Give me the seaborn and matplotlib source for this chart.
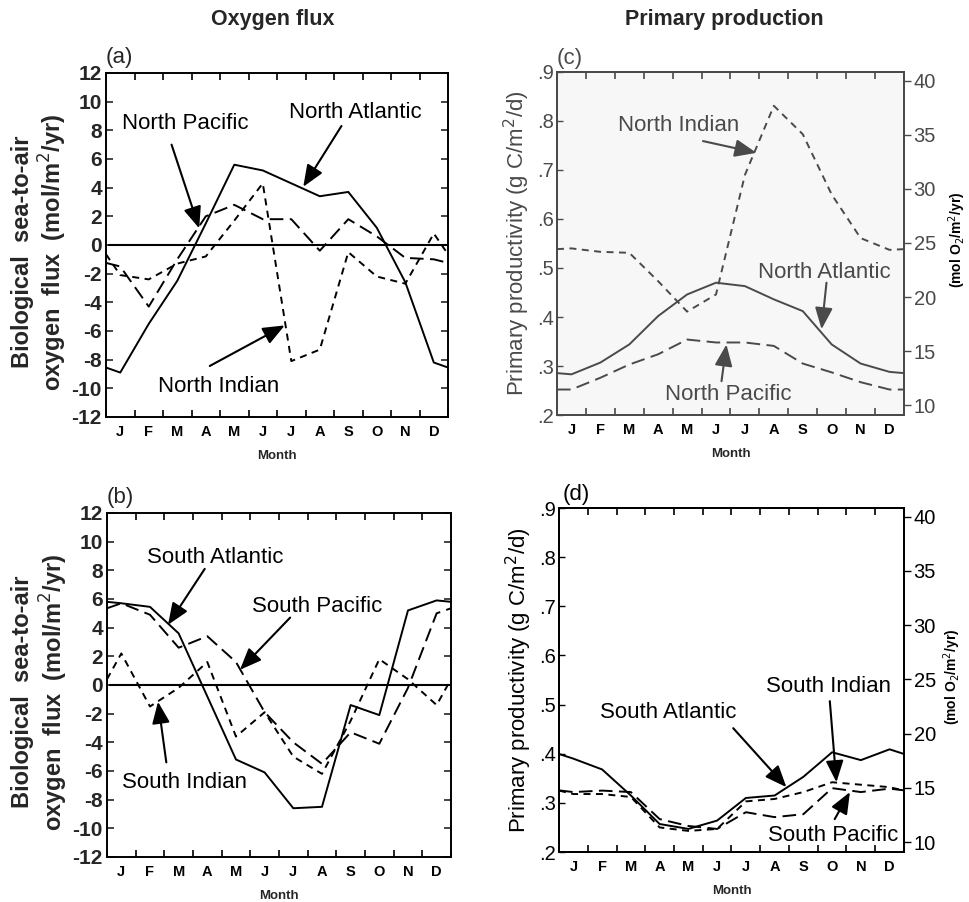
import numpy as np
import pandas as pd
import matplotlib
matplotlib.use("Agg")
import matplotlib.pyplot as plt
import seaborn as sns

months = ["J", "F", "M", "A", "M", "J", "J", "A", "S", "O", "N", "D"]

# (a) biological sea-to-air oxygen flux, northern basins (mol/m2/yr)
n_atlantic_flux = [-8.9, -5.5, -2.5, 1.5, 5.6, 5.2, 4.3, 3.4, 3.7, 1.2, -2.6, -8.2]
n_pacific_flux = [-1.5, -4.3, -1.0, 2.0, 2.8, 1.8, 1.8, -0.4, 1.8, 0.6, -0.9, -1.0]
n_indian_flux = [-2.1, -2.4, -1.3, -0.8, 1.7, 4.3, -8.1, -7.3, -0.5, -2.2, -2.7, 0.8]

# (b) southern basins (mol/m2/yr)
s_atlantic_flux = [5.7, 5.45, 3.6, -0.8, -5.2, -6.1, -8.6, -8.5, -1.4, -2.1, 5.2, 5.9]
s_pacific_flux = [5.7, 4.9, 2.6, 3.4, 1.6, -1.9, -4.0, -5.5, -3.3, -4.1, -0.2, 5.0]
s_indian_flux = [2.2, -1.5, -0.2, 1.6, -3.6, -1.9, -5.0, -6.2, -2.5, 1.8, 0.4, -1.4]

# (c) primary productivity, northern basins (g C/m2/d)
n_atlantic_pp = [0.283, 0.307, 0.344, 0.402, 0.446, 0.470, 0.463, 0.436, 0.412, 0.344, 0.305, 0.288]
n_pacific_pp = [0.252, 0.276, 0.303, 0.324, 0.354, 0.348, 0.348, 0.341, 0.305, 0.287, 0.267, 0.252]
n_indian_pp = [0.540, 0.533, 0.531, 0.473, 0.411, 0.446, 0.690, 0.831, 0.773, 0.650, 0.561, 0.537]

# (d) southern basins (g C/m2/d)
s_atlantic_pp = [0.390, 0.368, 0.315, 0.257, 0.247, 0.264, 0.310, 0.315, 0.353, 0.403, 0.387, 0.409]
s_indian_pp = [0.318, 0.318, 0.312, 0.250, 0.243, 0.247, 0.303, 0.308, 0.322, 0.342, 0.337, 0.332]
s_pacific_pp = [0.322, 0.325, 0.322, 0.267, 0.253, 0.247, 0.281, 0.271, 0.277, 0.330, 0.322, 0.329]

flux_ticks = list(range(-12, 13, 2))
pp_ticks = [0.2, 0.3, 0.4, 0.5, 0.6, 0.7, 0.8, 0.9]
o2_ticks = [10, 15, 20, 25, 30, 35, 40]

sns.set_theme(style="ticks")
plt.rcParams["font.family"] = ["Liberation Sans", "DejaVu Sans"]

LONG = (7, 3.3)
SHORT = (3.6, 2.8)


def to_frame(series):
    # month centres, wrapped to the panel edges with the Dec/Jan mean
    rows = []
    for name, vals in series.items():
        edge = (vals[0] + vals[-1]) / 2
        xs = [0.0] + [i + 0.5 for i in range(12)] + [12.0]
        ys = [edge] + list(vals) + [edge]
        for x, y in zip(xs, ys):
            rows.append([name, x, y])
    return pd.DataFrame(rows, columns=["series", "x", "value"])


def draw_lines(ax, series, dashes, color):
    df = to_frame(series)
    sns.lineplot(data=df, x="x", y="value", style="series", dashes=dashes,
                 color=color, lw=1.4, estimator=None, sort=False,
                 legend=False, ax=ax)


def month_axis(ax, color="black"):
    ax.set_xlim(0, 12)
    ax.set_xticks(range(13))
    ax.set_xticklabels([])
    ax.set_xticks([i + 0.5 for i in range(12)], minor=True)
    ax.set_xticklabels(months, minor=True, fontsize=10.5, fontweight="bold",
                       color="black")
    ax.tick_params(axis="x", which="major", direction="in", length=5,
                   top=True, color=color, width=1.2)
    ax.tick_params(axis="x", which="minor", length=0, pad=6)
    ax.set_xlabel("Month", fontsize=9.5, fontweight="bold", labelpad=8)
    for s in ax.spines.values():
        s.set_linewidth(1.4)
        s.set_color(color)


def arrow(ax, label, text_xy, tail, head, color="black", fs=16):
    ax.text(*text_xy, label, ha="center", va="center", fontsize=fs, color=color)
    ax.annotate("", xy=head, xytext=tail,
                arrowprops=dict(arrowstyle="-|>,head_length=1.1,head_width=0.45",
                                color=color, lw=1.5, shrinkA=0, shrinkB=0))


fig = plt.figure(figsize=(9.69, 9.02), dpi=100)
ax_a = fig.add_axes([0.1094, 0.5377, 0.353, 0.3814])
ax_b = fig.add_axes([0.1104, 0.0499, 0.355, 0.3814])
ax_c = fig.add_axes([0.5748, 0.5399, 0.3581, 0.3803])
ax_d = fig.add_axes([0.5769, 0.0554, 0.356, 0.3814])

fig.text(273 / 969, 1 - 20 / 902, "Oxygen flux", ha="center", va="center",
         fontsize=15.5, fontweight="bold")
fig.text(724 / 969, 1 - 20 / 902, "Primary production", ha="center", va="center",
         fontsize=15.5, fontweight="bold")

# ---------- oxygen flux panels ----------
for ax, series, lab in [
    (ax_a, {"Atlantic": n_atlantic_flux, "Pacific": n_pacific_flux,
            "Indian": n_indian_flux}, "(a)"),
    (ax_b, {"Atlantic": s_atlantic_flux, "Pacific": s_pacific_flux,
            "Indian": s_indian_flux}, "(b)"),
]:
    ax.axhline(0, color="black", lw=1.5, xmin=0.01)
    draw_lines(ax, series, {"Atlantic": "", "Pacific": LONG, "Indian": SHORT}, "black")
    month_axis(ax)
    ax.set_ylim(-12, 12)
    ax.set_yticks(flux_ticks)
    ax.set_yticklabels([str(t) for t in flux_ticks], fontsize=15, fontweight="bold")
    ax.tick_params(axis="y", direction="in", length=5, width=1.2, pad=3, right=True)
    ax.set_ylabel("")
    ax.text(-0.245, 0.48, "Biological  sea-to-air", rotation=90, transform=ax.transAxes,
            ha="center", va="center", fontsize=17, fontweight="bold")
    ax.text(-0.155, 0.48, "oxygen  flux  (mol/m$^2$/yr)", rotation=90,
            transform=ax.transAxes, ha="center", va="center", fontsize=17,
            fontweight="bold")
    ax.text(0.0, 1.015, lab, transform=ax.transAxes, ha="left", va="bottom",
            fontsize=16)

arrow(ax_a, "North Pacific", (2.77, 8.47), (2.30, 7.0), (3.27, 1.16))
arrow(ax_a, "North Atlantic", (8.76, 9.25), (8.26, 8.3), (6.92, 4.06))
arrow(ax_a, "North Indian", (3.94, -9.86), (3.64, -8.44), (6.27, -5.61))

arrow(ax_b, "South Atlantic", (3.76, 8.9), (3.41, 8.1), (2.13, 4.2))
arrow(ax_b, "South Pacific", (7.32, 5.45), (6.39, 4.7), (4.64, 1.06))
arrow(ax_b, "South Indian", (2.72, -6.8), (2.07, -5.4), (1.78, -1.17))

# ---------- primary production panels ----------
grey = "#4a4a4a"
for ax, series, lab, col, rx in [
    (ax_c, {"Atlantic": n_atlantic_pp, "Pacific": n_pacific_pp,
            "Indian": n_indian_pp}, "(c)", grey, 1.153),
    (ax_d, {"Atlantic": s_atlantic_pp, "Pacific": s_pacific_pp,
            "Indian": s_indian_pp}, "(d)", "black", 1.14),
]:
    if col == grey:
        ax.set_facecolor("#f7f7f7")
    draw_lines(ax, series, {"Atlantic": "", "Pacific": LONG, "Indian": SHORT}, col)
    month_axis(ax, col)
    ax.set_ylim(0.2, 0.9)
    ax.set_yticks(pp_ticks)
    ax.set_yticklabels(["." + str(int(round(t * 10))) for t in pp_ticks],
                       fontsize=14.5, color=col)
    ax.tick_params(axis="y", direction="in", length=4, width=1.0, pad=2, color=col)
    ax.set_ylabel("Primary productivity (g C/m$^2$/d)", fontsize=16, color=col,
                  labelpad=4)
    ax.text(0.0 if col == grey else 0.01, 1.01, lab, transform=ax.transAxes,
            ha="left", va="bottom", fontsize=16, color=col)
    rax = ax.twinx()
    rax.set_ylim(9.1, 40.8)
    rax.set_yticks(o2_ticks)
    rax.set_yticklabels([str(t) for t in o2_ticks], fontsize=14.5, color=col)
    rax.tick_params(axis="y", direction="out", length=5, width=1.0, pad=2, color=col)
    for s in rax.spines.values():
        s.set_linewidth(1.4)
        s.set_color(col)
    rax.text(rx, 0.51, "(mol O$_2$/m$^2$/yr)", rotation=90, transform=rax.transAxes,
             ha="center", va="center", fontsize=10, fontweight="bold",
             color="black")

arrow(ax_c, "North Indian", (4.19, 0.79), (5.05, 0.759), (6.9, 0.735), color=grey)
arrow(ax_c, "North Atlantic", (9.26, 0.49), (9.32, 0.47), (9.15, 0.375), color=grey)
arrow(ax_c, "North Pacific", (5.92, 0.242), (5.69, 0.269), (5.86, 0.344), color=grey)

arrow(ax_d, "South Atlantic", (3.79, 0.483), (6.06, 0.452), (7.91, 0.332))
arrow(ax_d, "South Indian", (9.36, 0.536), (9.42, 0.507), (9.65, 0.342))
arrow(ax_d, "South Pacific", (9.54, 0.233), (9.59, 0.267), (10.12, 0.322))

fig.savefig("out.png", dpi=100)
